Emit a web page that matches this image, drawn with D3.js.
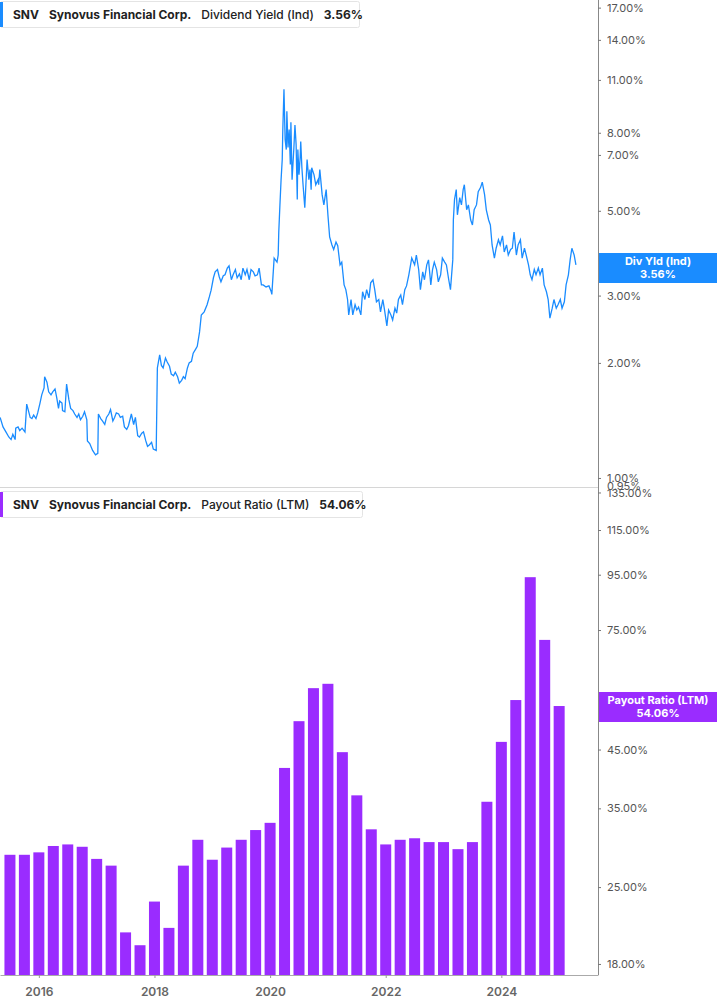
<!DOCTYPE html>
<html>
<head>
<meta charset="utf-8">
<script src="https://cdn.jsdelivr.net/npm/d3@7"></script>
<style>
  body { margin: 0; background: #fff; font-family: Inter, "Noto Sans", sans-serif; }
  svg text { font-family: Inter, "Noto Sans", sans-serif; }
</style>
</head>
<body>
<svg id="chart" width="717" height="1005"></svg>
<script>
const WIDTH = 717
const HEIGHT = 1005
const PLOT_RIGHT = 598

// dividend yield, decimal year (minus 2000) and percent
const yieldYears = [15.33,15.38,15.43,15.48,15.52,15.55,15.59,15.60,15.64,15.67,15.71,15.76,15.79,15.85,15.88,15.91,15.95,15.98,16.02,16.05,16.09,16.10,16.14,16.17,16.21,16.24,16.28,16.31,16.34,16.36,16.40,16.41,16.45,16.48,16.52,16.55,16.59,16.62,16.66,16.69,16.72,16.76,16.79,16.83,16.84,16.88,16.93,16.98,17.02,17.03,17.07,17.10,17.14,17.17,17.21,17.24,17.28,17.31,17.34,17.38,17.41,17.45,17.48,17.52,17.55,17.60,17.64,17.67,17.71,17.74,17.78,17.81,17.85,17.88,17.91,17.95,17.98,18.03,18.05,18.09,18.12,18.15,18.19,18.22,18.26,18.29,18.33,18.36,18.40,18.43,18.47,18.50,18.53,18.57,18.60,18.64,18.67,18.71,18.74,18.78,18.81,18.86,18.91,18.95,18.98,19.02,19.05,19.09,19.12,19.15,19.19,19.22,19.26,19.29,19.33,19.36,19.40,19.43,19.47,19.50,19.53,19.57,19.60,19.64,19.67,19.71,19.74,19.78,19.81,19.85,19.88,19.93,19.98,20.02,20.03,20.07,20.12,20.14,20.15,20.17,20.19,20.21,20.22,20.24,20.26,20.28,20.29,20.31,20.33,20.35,20.36,20.38,20.40,20.41,20.43,20.45,20.47,20.48,20.50,20.52,20.53,20.55,20.57,20.60,20.64,20.67,20.69,20.71,20.72,20.76,20.79,20.83,20.84,20.86,20.90,20.93,20.97,21.00,21.03,21.07,21.10,21.14,21.17,21.21,21.24,21.28,21.31,21.34,21.36,21.40,21.43,21.47,21.50,21.53,21.57,21.60,21.64,21.67,21.71,21.74,21.78,21.81,21.84,21.88,21.91,21.95,21.98,22.02,22.05,22.09,22.12,22.16,22.19,22.22,22.26,22.29,22.33,22.36,22.40,22.45,22.50,22.53,22.57,22.60,22.64,22.67,22.71,22.74,22.78,22.81,22.84,22.88,22.91,22.95,22.98,23.02,23.05,23.09,23.12,23.16,23.17,23.19,23.22,23.24,23.28,23.31,23.34,23.36,23.40,23.43,23.47,23.50,23.53,23.57,23.60,23.64,23.67,23.71,23.74,23.78,23.81,23.84,23.88,23.91,23.95,23.98,24.02,24.05,24.09,24.12,24.16,24.19,24.22,24.26,24.29,24.33,24.36,24.40,24.43,24.47,24.50,24.53,24.57,24.60,24.64,24.67,24.71,24.74,24.78,24.81,24.84,24.88,24.91,24.95,24.98,25.02,25.05,25.09,25.12,25.16,25.19,25.22,25.26,25.29]
const yieldValues = [1.44,1.36,1.32,1.28,1.26,1.30,1.26,1.35,1.36,1.33,1.35,1.32,1.56,1.44,1.43,1.46,1.43,1.48,1.57,1.65,1.72,1.84,1.78,1.68,1.65,1.68,1.71,1.62,1.52,1.59,1.57,1.50,1.49,1.76,1.60,1.52,1.50,1.47,1.44,1.47,1.42,1.45,1.49,1.42,1.25,1.23,1.18,1.15,1.16,1.47,1.43,1.41,1.38,1.44,1.47,1.51,1.41,1.44,1.48,1.47,1.44,1.45,1.36,1.34,1.37,1.47,1.38,1.44,1.29,1.28,1.31,1.32,1.25,1.21,1.22,1.24,1.19,1.18,1.94,2.10,1.97,1.94,2.06,2.01,1.96,1.87,1.85,1.89,1.84,1.77,1.80,1.84,1.82,1.94,2.00,2.02,2.12,2.17,2.21,2.41,2.67,2.72,2.84,2.98,3.10,3.34,3.46,3.51,3.36,3.26,3.38,3.40,3.54,3.59,3.30,3.40,3.51,3.34,3.42,3.30,3.54,3.40,3.51,3.30,3.51,3.46,3.38,3.40,3.54,3.20,3.20,3.16,3.18,3.07,3.02,3.76,3.67,3.83,4.40,5.18,6.03,6.81,8.16,10.39,7.68,7.23,9.10,7.32,8.16,6.61,8.52,6.03,6.81,7.23,8.38,7.45,5.35,7.23,6.21,6.89,7.59,6.48,5.85,5.09,6.81,6.03,6.41,5.68,6.48,6.21,5.85,6.03,5.85,6.41,5.51,5.18,5.68,4.88,4.27,4.07,3.96,4.14,4.05,3.61,3.67,3.20,3.11,2.93,2.67,2.93,2.67,2.84,2.75,2.80,2.67,3.07,2.93,3.11,2.96,3.24,3.30,3.11,2.89,2.93,2.72,2.93,2.75,2.50,2.75,2.67,2.59,2.78,2.70,2.93,3.01,2.84,3.11,3.18,3.40,3.76,3.61,3.83,3.51,3.11,3.46,3.30,3.61,3.72,3.20,3.51,3.67,3.51,3.26,3.40,3.76,3.67,3.61,3.30,3.11,3.72,4.73,5.35,5.68,4.88,5.41,5.18,5.68,5.85,5.03,5.18,4.73,4.59,5.03,5.18,5.61,5.75,5.94,5.51,5.03,4.73,4.59,4.07,3.76,3.99,4.20,4.07,4.30,3.90,4.07,3.83,3.96,3.99,4.40,3.83,4.07,4.20,3.76,3.99,3.83,3.61,3.40,3.30,3.51,3.40,3.54,3.40,3.54,3.20,3.07,2.93,2.62,2.78,2.93,2.78,2.84,2.93,2.78,2.89,3.20,3.40,3.72,3.99,3.83,3.61]

// payout ratio, quarter ends 2015 Q2 .. 2024 Q4
const payoutQuarters = d3.range(39).map(i => 2015.5 + i * 0.25)
const payoutValues = [28.7,28.7,29.0,29.8,30.0,29.7,28.2,27.4,20.6,19.5,23.5,21.0,27.4,30.6,28.1,29.6,30.6,31.9,32.9,41.6,50.8,58.5,59.6,44.5,37.0,32.0,30.0,30.6,30.8,30.3,30.3,29.4,30.3,36.0,46.5,55.6,94.0,71.9,54.2]

const yieldTicks = [1, 2, 3, 5, 7, 8, 11, 14, 17]
const payoutTicks = [18, 25, 35, 45, 75, 95, 115, 135]
const yearTicks = [2016, 2018, 2020, 2022, 2024]

const BLUE = '#1a8cff'
const PURPLE = '#9a2cff'

const svg = d3.select('#chart')

const x = d3.scaleLinear().domain([2015.328, 2025.672]).range([0, PLOT_RIGHT])
const yTop = d3.scaleLog().domain([0.947, 17.8]).range([487, 0])
const yBot = d3.scaleLog().domain([17.17, 138.2]).range([975, 487])

// panel separator and right axis line
svg.append('line').attr('x1', 0).attr('x2', PLOT_RIGHT).attr('y1', 487.5).attr('y2', 487.5)
    .attr('stroke', '#d6d6d6')
svg.append('line').attr('x1', PLOT_RIGHT + 0.5).attr('x2', PLOT_RIGHT + 0.5).attr('y1', 0).attr('y2', 975)
    .attr('stroke', '#888')

// line
const pts = yieldYears.map((yr, i) => [2000 + yr, yieldValues[i]])
svg.append('path')
    .datum(pts)
    .attr('fill', 'none')
    .attr('stroke', BLUE)
    .attr('stroke-width', 1.3)
    .attr('d', d3.line().x(d => x(d[0])).y(d => yTop(d[1])))

// bars
const barW = 11
svg.selectAll('.bar')
    .data(payoutValues)
    .enter()
    .append('rect')
    .attr('class', 'bar')
    .attr('x', (d, i) => x(payoutQuarters[i]) - barW / 2)
    .attr('y', d => yBot(d))
    .attr('width', barW)
    .attr('height', d => 975 - yBot(d))
    .attr('fill', PURPLE)

// right axes
const axisTop = d3.axisRight(yTop).tickValues(yieldTicks).tickSize(3).tickFormat(d => d.toFixed(2) + '%')
const axisBot = d3.axisRight(yBot).tickValues(payoutTicks).tickSize(3).tickFormat(d => d.toFixed(2) + '%')
for (const ax of [axisTop, axisBot]) {
    const g = svg.append('g').attr('transform', `translate(${PLOT_RIGHT},0)`).call(ax)
    g.select('.domain').remove()
    g.selectAll('line').attr('stroke', '#777')
    g.selectAll('text').attr('x', 9).attr('fill', '#555').style('font-size', '11px')
}
// extra 0.95% label at panel bottom (overlaps 135% as in the source)
svg.append('text').attr('x', PLOT_RIGHT + 9).attr('y', yTop(0.95) + 4)
    .attr('fill', '#555').style('font-size', '11px').text('0.95%')

// bottom x axis
const xAxis = d3.axisBottom(x).tickValues(yearTicks).tickSize(3).tickSizeOuter(0).tickFormat(d3.format('d'))
const xg = svg.append('g').attr('transform', 'translate(0,975)').call(xAxis)
xg.select('.domain').attr('stroke', '#aaa')
xg.selectAll('line').attr('stroke', '#999')
xg.selectAll('text').attr('y', 12).attr('fill', '#666').attr('font-weight', 600).style('font-size', '12px')

// legends
function legend(y0, w, color, label, value) {
    const g = svg.append('g').attr('transform', `translate(0,${y0})`)
    g.append('rect').attr('x', 0.5).attr('y', 0.5).attr('width', w).attr('height', 26)
        .attr('fill', '#fff').attr('stroke', '#e4e4e4').attr('rx', 2)
    g.append('rect').attr('x', 0).attr('y', 1).attr('width', 3).attr('height', 25).attr('fill', color)
    const t = g.append('text').attr('x', 13).attr('y', 18).style('font-size', '12px').attr('fill', '#222')
    t.append('tspan').attr('font-weight', 700).text('SNV')
    t.append('tspan').attr('dx', 10).attr('font-weight', 700).text('Synovus Financial Corp.')
    t.append('tspan').attr('dx', 10).attr('font-weight', 500).text(label)
    t.append('tspan').attr('dx', 10).attr('font-weight', 700).text(value)
}
legend(1, 359, BLUE, 'Dividend Yield (Ind)', '3.56%')
legend(491, 362, PURPLE, 'Payout Ratio (LTM)', '54.06%')

// right value tags
function tag(yc, color, l1, l2) {
    const g = svg.append('g')
    g.append('rect').attr('x', PLOT_RIGHT + 1).attr('y', yc - 15).attr('width', WIDTH - PLOT_RIGHT).attr('height', 30)
        .attr('fill', color)
    g.append('text').attr('x', 658).attr('y', yc - 3).attr('text-anchor', 'middle').attr('fill', '#fff')
        .attr('font-weight', 700).style('font-size', '11px').text(l1)
    g.append('text').attr('x', 658).attr('y', yc + 10).attr('text-anchor', 'middle').attr('fill', '#fff')
        .attr('font-weight', 700).style('font-size', '11px').text(l2)
}
tag(268, BLUE, 'Div Yld (Ind)', '3.56%')
tag(707, PURPLE, 'Payout Ratio (LTM)', '54.06%')
</script>
</body>
</html>
